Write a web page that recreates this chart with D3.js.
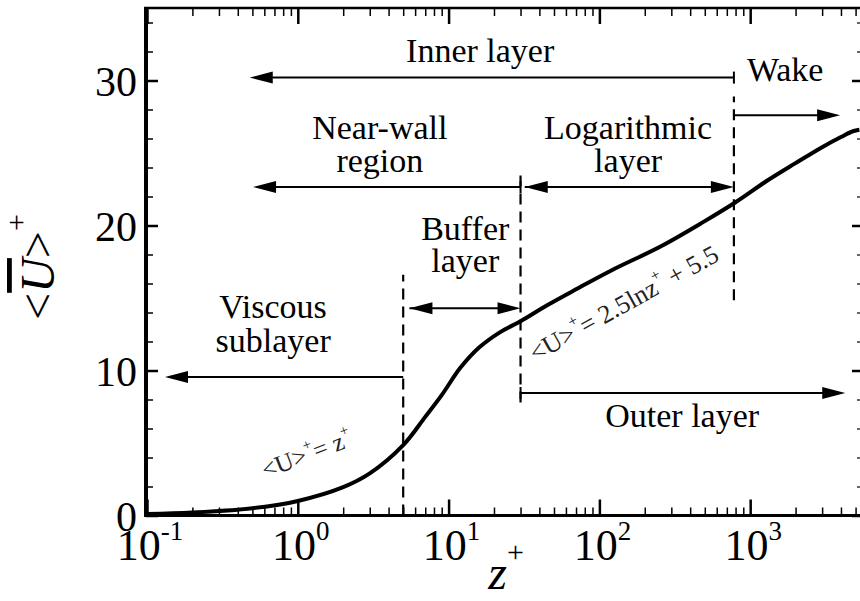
<!DOCTYPE html>
<html><head><meta charset="utf-8">
<script src="https://cdn.jsdelivr.net/npm/d3@7"></script>
<style>
body{margin:0;background:#fff}
text{font-family:"Liberation Serif","Times New Roman",Times,"DejaVu Serif",serif}
</style>
</head><body>
<svg id="c" width="860" height="601"></svg>
<script>
// ---- data ----
const zPlus = [0.1, 0.2, 0.5, 1, 2, 3, 5, 7, 9, 12, 16, 22, 30, 45, 70, 120, 260, 500, 800, 1300, 2000, 3000, 4000, 4800, 5300];
const uPlus = [0.1, 0.2, 0.5, 1.0, 1.95, 2.9, 4.85, 6.8, 8.3, 10.2, 11.6, 12.65, 13.4, 14.5, 15.6, 16.9, 18.6, 20.3, 21.6, 23.1, 24.3, 25.4, 26.1, 26.5, 26.6];
const xTickExps = [-1, 0, 1, 2, 3];
const yTickValues = [0, 10, 20, 30];
const yMinorValues = [2,4,6,8,12,14,16,18,22,24,26,28,32,34];

const dashedZ  = [5, 30, 780];
const dashedU0 = [0, 7.8, 14.85];
const dashedU1 = [16.6, 23.7, 28.9];

const arrowZ0 = [780, 30, 32, 5.5, 5, 780, 30];
const arrowZ1 = [0.48, 0.505, 780, 30, 0.1316, 3950, 4270];
const arrowU  = [30.2, 22.65, 22.65, 14.3, 9.55, 27.6, 8.45];
const arrowDouble = [false, false, true, true, false, false, false];
const arrowBar    = [true, true, false, false, false, false, true];

const labelText = ["Inner layer", "Wake", "Near-wall", "region", "Logarithmic", "layer", "Buffer", "layer", "Viscous", "sublayer", "Outer layer"];
const labelZ    = [16.2, 1706, 3.5, 3.5, 155, 155, 12.9, 12.9, 0.686, 0.686, 354];
const labelU    = [31.3, 30.0, 26.0, 23.7, 26.0, 23.7, 19.0, 16.8, 13.6, 11.3, 6.1];

// ---- chart ----
const svg = d3.select("#c");
const x = d3.scaleLog().domain([0.1, 5600]).range([147, 863]);
const y = d3.scaleLinear().domain([0, 35]).range([515.5, 8]);
const X0 = 147, X1 = 863, Y0 = 515.5, Y1 = 8;

const minorX = [];
for (let e = -1; e <= 3; e++) for (let m = 2; m <= 9; m++) { const v = m * Math.pow(10, e); if (v < 5600) minorX.push(v); }
const majorX = xTickExps.map(e => Math.pow(10, e));

function styleAxis(g, w) { g.select(".domain").remove(); g.selectAll("line").attr("stroke", "#000").attr("stroke-width", w); g.selectAll("text").remove(); }

svg.append("g").attr("transform", `translate(0,${Y0})`).call(d3.axisBottom(x).tickValues(majorX).tickSize(-16).tickFormat("")).call(styleAxis, 2.5);
svg.append("g").attr("transform", `translate(0,${Y0})`).call(d3.axisBottom(x).tickValues(minorX).tickSize(-8).tickFormat("")).call(styleAxis, 1.5);
svg.append("g").attr("transform", `translate(0,${Y1})`).call(d3.axisTop(x).tickValues(majorX).tickSize(-16).tickFormat("")).call(styleAxis, 2.5);
svg.append("g").attr("transform", `translate(0,${Y1})`).call(d3.axisTop(x).tickValues(minorX).tickSize(-8).tickFormat("")).call(styleAxis, 1.5);
svg.append("g").attr("transform", `translate(${X0-1},0)`).call(d3.axisLeft(y).tickValues(yTickValues).tickSize(-12).tickFormat("")).call(styleAxis, 2.5);
svg.append("g").attr("transform", `translate(${X0-1},0)`).call(d3.axisLeft(y).tickValues(yMinorValues).tickSize(-7).tickFormat("")).call(styleAxis, 1.5);
svg.append("g").attr("transform", `translate(${X1},0)`).call(d3.axisRight(y).tickValues(yTickValues).tickSize(-11).tickFormat("")).call(styleAxis, 2.5);
svg.append("g").attr("transform", `translate(${X1},0)`).call(d3.axisRight(y).tickValues(yMinorValues).tickSize(-6).tickFormat("")).call(styleAxis, 1.2);

// frame
svg.append("line").attr("x1", X0-1).attr("x2", X0-1).attr("y1", Y1-1).attr("y2", Y0+1.5).attr("stroke","#000").attr("stroke-width",4);
svg.append("line").attr("x1", X0-3).attr("x2", X1).attr("y1", Y0).attr("y2", Y0).attr("stroke","#000").attr("stroke-width",3);
svg.append("line").attr("x1", X0-3).attr("x2", X1).attr("y1", Y1).attr("y2", Y1).attr("stroke","#000").attr("stroke-width",2.5);
svg.append("line").attr("x1", X1).attr("x2", X1).attr("y1", Y1).attr("y2", Y0).attr("stroke","#000").attr("stroke-width",2.5);

// x tick labels
majorX.forEach((v, i) => {
  const t = svg.append("text").attr("x", x(v) + 3).attr("y", 560).attr("text-anchor", "middle")
    .attr("font-size", 44).attr("fill", "#000");
  t.append("tspan").text("10");
  t.append("tspan").attr("dy", -20).attr("font-size", 27).text(String(xTickExps[i]));
});
// y tick labels
yTickValues.forEach(v => {
  svg.append("text").attr("x", 137).attr("y", y(v) + 15).attr("text-anchor", "end")
    .attr("font-size", 42).attr("fill", "#000").text(v);
});

// axis titles
const xt = svg.append("text").attr("x", 506).attr("y", 589).attr("text-anchor", "middle")
  .attr("font-size", 48).attr("fill", "#000");
xt.append("tspan").attr("font-style", "italic").text("z");
xt.append("tspan").attr("dy", -27).attr("font-size", 30).text("+");

const yt = svg.append("text").attr("transform", "translate(54,267) rotate(-90)").attr("text-anchor", "middle")
  .attr("font-size", 48).attr("fill", "#000");
yt.append("tspan").text("<");
yt.append("tspan").attr("font-style", "italic").style("text-decoration", "overline").text("U");
yt.append("tspan").text(">");
yt.append("tspan").attr("dy", -28).attr("font-size", 30).text("+");

// dashed lines
dashedZ.forEach((z, i) => {
  svg.append("line").attr("x1", x(z)).attr("x2", x(z)).attr("y1", y(dashedU0[i])).attr("y2", y(dashedU1[i]))
    .attr("stroke", "#000").attr("stroke-width", 2.2).attr("stroke-dasharray", "11,7");
});

// arrows
function head(px, py, dir) {
  const L = 23, H = 6;
  return `M${px},${py}L${px - dir*L},${py - H}L${px - dir*L},${py + H}Z`;
}
arrowZ0.forEach((z0, i) => {
  const a = x(z0), b = x(arrowZ1[i]), yy = y(arrowU[i]);
  const dir = b > a ? 1 : -1;
  svg.append("line").attr("x1", a).attr("x2", b - dir*10).attr("y1", yy).attr("y2", yy).attr("stroke", "#000").attr("stroke-width", 2);
  svg.append("path").attr("d", head(b, yy, dir)).attr("fill", "#000");
  if (arrowDouble[i]) svg.append("path").attr("d", head(a, yy, -dir)).attr("fill", "#000");
  if (arrowBar[i]) svg.append("line").attr("x1", a).attr("x2", a).attr("y1", yy - 6).attr("y2", yy + 6).attr("stroke", "#000").attr("stroke-width", 2);
});

// labels
labelText.forEach((t, i) => {
  svg.append("text").attr("x", x(labelZ[i])).attr("y", y(labelU[i])).attr("text-anchor", "middle")
    .attr("font-size", 34).attr("fill", "#000").text(t);
});

// curve
const pts = zPlus.map((z, i) => [z, uPlus[i]]);
svg.append("path").datum(pts)
  .attr("d", d3.line().x(d => x(d[0])).y(d => y(d[1])).curve(d3.curveCatmullRom.alpha(0.5)))
  .attr("fill", "none").attr("stroke", "#000").attr("stroke-width", 4);

// equations
const e1 = svg.append("text").attr("transform", `translate(${x(1.2)},${y(3.7)}) rotate(-21)`).attr("text-anchor", "middle")
  .attr("font-size", 25).attr("fill", "#222");
e1.append("tspan").text("<U>");
e1.append("tspan").attr("dy", -12).attr("font-size", 15).text("+");
e1.append("tspan").attr("dy", 12).text("= z");
e1.append("tspan").attr("dy", -12).attr("font-size", 15).text("+");

const e2 = svg.append("text").attr("transform", `translate(${x(155)},${y(14.1)}) rotate(-29)`).attr("text-anchor", "middle")
  .attr("font-size", 26).attr("fill", "#222");
e2.append("tspan").text("<U>");
e2.append("tspan").attr("dy", -13).attr("font-size", 16).text("+");
e2.append("tspan").attr("dy", 13).text("= 2.5lnz");
e2.append("tspan").attr("dy", -13).attr("font-size", 16).text("+");
e2.append("tspan").attr("dy", 13).text(" + 5.5");
</script>
</body></html>
